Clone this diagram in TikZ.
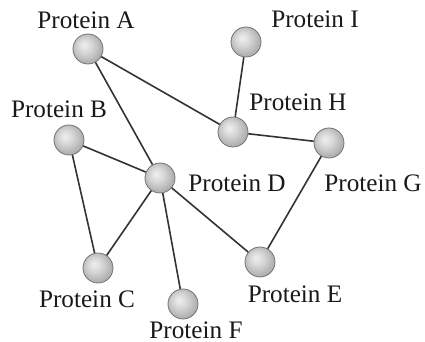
\documentclass[tikz,border=0pt]{standalone}
\usepackage{fontspec}
\setmainfont{Liberation Serif}
\pgfdeclareradialshading{protball}{\pgfpoint{-7bp}{7bp}}{%
  color(0bp)=(black!6); color(12bp)=(black!16); color(25bp)=(black!30); color(50bp)=(black!45)}
\begin{document}
\begin{tikzpicture}[x=0.5pt,y=-0.5pt,
  prot/.style={circle,minimum size=15pt,inner sep=0pt,draw=black!55,line width=0.4pt,shading=protball},
  lbl/.style={font=\fontsize{12.6}{14}\selectfont,inner sep=0pt,text=black!90},
  link/.style={draw=black!80,line width=0.8pt}]
\useasboundingbox (0,0) rectangle (425,342);
\node[prot] (A) at (88,49) {};
\node[prot] (B) at (69,140) {};
\node[prot] (D) at (160,178) {};
\node[prot] (I) at (246,42) {};
\node[prot] (H) at (233,132) {};
\node[prot] (G) at (329,143) {};
\node[prot] (C) at (98,268) {};
\node[prot] (F) at (183,304) {};
\node[prot] (E) at (260,262) {};
\node[lbl] (lA) at (86,20) {Protein A};
\node[lbl] (lB) at (59,109) {Protein B};
\node[lbl] (lI) at (315,19) {Protein I};
\node[lbl] (lH) at (298,102) {Protein H};
\node[lbl] (lD) at (237,183) {Protein D};
\node[lbl] (lG) at (373,183) {Protein G};
\node[lbl] (lC) at (87,299) {Protein C};
\node[lbl] (lF) at (196,330) {Protein F};
\node[lbl] (lE) at (295,294) {Protein E};
\path[link] (A) -- (D) (A) -- (H) (I) -- (H) (H) -- (G) (G) -- (E)
  (D) -- (E) (B) -- (D) (B) -- (C) (D) -- (C) (D) -- (F);
\end{tikzpicture}
\end{document}
